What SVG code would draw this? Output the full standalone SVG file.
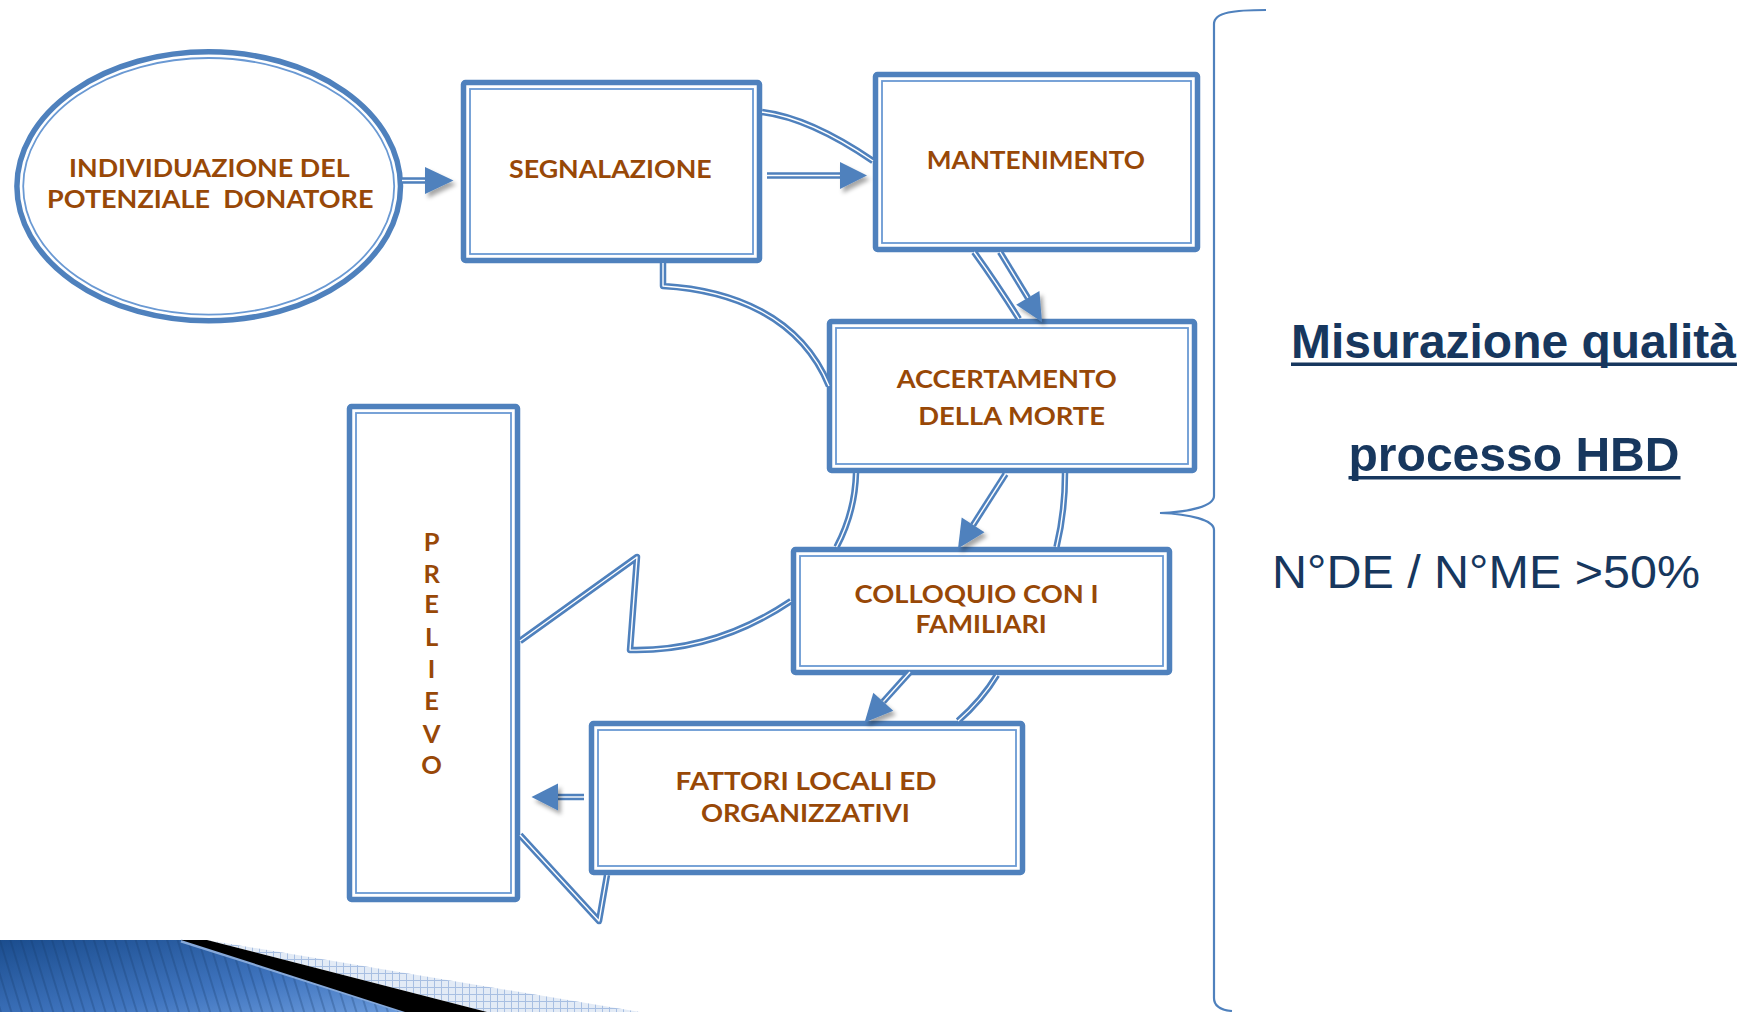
<svg xmlns="http://www.w3.org/2000/svg" width="1740" height="1012" viewBox="0 0 1740 1012">
<style>
.box{fill:#fff;stroke:#4F81BD;stroke-width:5.5}
.inner{fill:none;stroke:#6A99D3;stroke-width:1.8}
.lbl{font-family:Lato,"Liberation Sans",sans-serif;font-weight:700;font-size:25.5px;fill:#984807}
.band{fill:none;stroke:#4F81BD;stroke-width:6.5;stroke-linejoin:round}
.bandw{fill:none;stroke:#fff;stroke-width:1.4;stroke-linejoin:round}
.head{fill:#4F81BD;filter:url(#sh)}
.title{font-family:"Liberation Sans",Arial,sans-serif;font-weight:700;font-size:48px;fill:#17375E}
.meas{font-family:"Liberation Sans",Arial,sans-serif;font-size:47px;fill:#17375E}
</style>
<defs>
<filter id="sh" x="-50%" y="-50%" width="200%" height="200%">
<feDropShadow dx="3" dy="4" stdDeviation="2" flood-color="#000" flood-opacity="0.35"/>
</filter>
<linearGradient id="bg" x1="0" y1="0" x2="1" y2="1">
<stop offset="0" stop-color="#1B4D8E"/>
<stop offset="0.6" stop-color="#3F74BE"/>
<stop offset="1" stop-color="#6B9BDC"/>
</linearGradient>
<pattern id="stripes" width="10" height="10" patternUnits="userSpaceOnUse" patternTransform="rotate(-17)">
<line x1="5" y1="0" x2="5" y2="10" stroke="#143a6a" stroke-width="1" stroke-opacity="0.55"/>
</pattern>
<pattern id="grid" width="7" height="7" patternUnits="userSpaceOnUse">
<rect width="7" height="7" fill="#E3EBF6"/>
<path d="M0,0.5H7M0.5,0V7" stroke="#A8BFE2" stroke-width="1"/>
</pattern>
</defs>
<rect width="1740" height="1012" fill="#fff"/>

<!-- bottom decoration -->
<polygon points="0,940 181,940 405,1012 0,1012" fill="url(#bg)"/>
<polygon points="0,940 181,940 405,1012 0,1012" fill="url(#stripes)"/>
<line x1="181" y1="941" x2="405" y2="1012" stroke="#86A9DA" stroke-width="3"/>
<polygon points="207,940 640,1012 487,1012" fill="url(#grid)"/>
<polygon points="181,940 207,940 487,1012 405,1012" fill="#000"/>

<g id="nodes">
<g id="node-individuazione">
<ellipse cx="208.7" cy="186.3" rx="191.8" ry="134.5" class="box"/>
<ellipse cx="208.7" cy="186.3" rx="185.5" ry="128.3" class="inner"/>
<text class="lbl" x="69" y="176.7" textLength="280.6" lengthAdjust="spacingAndGlyphs">INDIVIDUAZIONE DEL</text>
<text class="lbl" x="47" y="208.3" textLength="326.5" lengthAdjust="spacingAndGlyphs">POTENZIALE&#160; DONATORE</text>
</g>
<g id="node-segnalazione">
<rect x="463.5" y="82.5" width="296" height="178" rx="2" class="box"/>
<rect x="470" y="89" width="283" height="165" class="inner"/>
<text class="lbl" x="509" y="178.3" textLength="202.7" lengthAdjust="spacingAndGlyphs">SEGNALAZIONE</text>
</g>
<g id="node-mantenimento">
<rect x="875.5" y="74.5" width="322" height="175" rx="2" class="box"/>
<rect x="882" y="81" width="309" height="162" class="inner"/>
<text class="lbl" x="926.7" y="169.3" textLength="218.3" lengthAdjust="spacingAndGlyphs">MANTENIMENTO</text>
</g>
<g id="node-accertamento">
<rect x="829.5" y="321.5" width="365" height="149" rx="2" class="box"/>
<rect x="836" y="328" width="352" height="136" class="inner"/>
<text class="lbl" x="896.7" y="388.3" textLength="220" lengthAdjust="spacingAndGlyphs">ACCERTAMENTO</text>
<text class="lbl" x="918.3" y="425" textLength="186.7" lengthAdjust="spacingAndGlyphs">DELLA MORTE</text>
</g>
<g id="node-colloquio">
<rect x="793.5" y="549.5" width="376" height="123" rx="2" class="box"/>
<rect x="800" y="556" width="363" height="110" class="inner"/>
<text class="lbl" x="854.5" y="602.5" textLength="244" lengthAdjust="spacingAndGlyphs">COLLOQUIO CON I</text>
<text class="lbl" x="915.4" y="633" textLength="131.4" lengthAdjust="spacingAndGlyphs">FAMILIARI</text>
</g>
<g id="node-fattori">
<rect x="591.5" y="723.5" width="431" height="149" rx="2" class="box"/>
<rect x="598" y="730" width="418" height="136" class="inner"/>
<text class="lbl" x="675.6" y="790" textLength="261" lengthAdjust="spacingAndGlyphs">FATTORI LOCALI ED</text>
<text class="lbl" x="701" y="821.5" textLength="208.8" lengthAdjust="spacingAndGlyphs">ORGANIZZATIVI</text>
</g>
<g id="node-prelievo">
<rect x="349.5" y="406.5" width="168" height="493" rx="2" class="box"/>
<rect x="356" y="413" width="155" height="480" class="inner"/>
<g class="lbl" text-anchor="middle">
<text x="431.6" y="550.5">P</text>
<text x="431.6" y="582.8">R</text>
<text x="431.6" y="613.3">E</text>
<text x="431.6" y="645.6">L</text>
<text x="431.6" y="678">I</text>
<text x="431.6" y="710">E</text>
<text x="431.6" y="742.5">V</text>
<text x="431.6" y="773.7">O</text>
</g>
</g>
<g id="node-misurazione">
<text class="title" x="1291" y="357.5" textLength="445" lengthAdjust="spacingAndGlyphs">Misurazione qualità</text>
<rect x="1291" y="362.5" width="446" height="3.5" fill="#17375E"/>
<text class="title" x="1348.5" y="470.5" textLength="331" lengthAdjust="spacingAndGlyphs">processo HBD</text>
<rect x="1348.5" y="476" width="332" height="3.5" fill="#17375E"/>
<text class="meas" x="1272" y="587.5" textLength="428" lengthAdjust="spacingAndGlyphs">N°DE / N°ME &gt;50%</text>
</g>
</g>

<g id="connectors">
<path class="band" d="M762,112 Q810,118 873,161"/>
<path class="bandw" d="M762,112 Q810,118 873,161"/>
<path class="band" d="M974,252 Q995,281 1019,319"/>
<path class="bandw" d="M974,252 Q995,281 1019,319"/>
<path class="band" d="M663,263 L663,286 C730,290 800,315 829,386"/>
<path class="bandw" d="M663,263 L663,286 C730,290 800,315 829,386"/>
<path class="band" d="M856,473 Q855,512 836.5,547"/>
<path class="bandw" d="M856,473 Q855,512 836.5,547"/>
<path class="band" d="M1065,473 Q1065,512 1056.5,547"/>
<path class="bandw" d="M1065,473 Q1065,512 1056.5,547"/>
<path class="band" d="M997,675 Q982,700 958,721"/>
<path class="bandw" d="M997,675 Q982,700 958,721"/>
<path class="band" d="M791,601 Q715,652 630,650 L637,557 L520,641"/>
<path class="bandw" d="M791,601 Q715,652 630,650 L637,557 L520,641"/>
<path class="band" d="M607,875 L599,921 L520,835"/>
<path class="bandw" d="M607,875 L599,921 L520,835"/>
<path d="M1266,10 C1235,10 1214,12 1214,24 L1214,496 C1214,506 1190,512 1160,513 C1190,514 1214,520 1214,530 L1214,998 C1214,1006 1220,1010 1232,1011" fill="none" stroke="#4F81BD" stroke-width="2.2"/>
<path class="band" d="M402,180.5 L427,180.5"/><path class="bandw" d="M402,180.5 L427,180.5"/>
<polygon class="head" points="425,167 453.5,180.5 425,194"/>
<path class="band" d="M767,175.5 L841,175.5"/><path class="bandw" d="M767,175.5 L841,175.5"/>
<polygon class="head" points="840,162 867,175.5 840,189"/>
<path class="band" d="M1000,252 L1028,298"/><path class="bandw" d="M1000,252 L1028,298"/>
<polygon class="head" points="1039.4,291 1042,322 1016.2,304.8"/>
<path class="band" d="M1005.6,474 L973.1,524.9"/><path class="bandw" d="M1005.6,474 L973.1,524.9"/>
<polygon class="head" points="984.5,532.2 958,548.5 961.7,517.6"/>
<path class="band" d="M910,672 L883.3,701.7"/><path class="bandw" d="M910,672 L883.3,701.7"/>
<polygon class="head" points="893.3,710.7 864.6,722.5 873.3,692.7"/>
<path class="band" d="M584,797 L557,797"/><path class="bandw" d="M584,797 L557,797"/>
<polygon class="head" points="558,783.5 531.5,797 558,810.5"/>
</g>
</svg>
